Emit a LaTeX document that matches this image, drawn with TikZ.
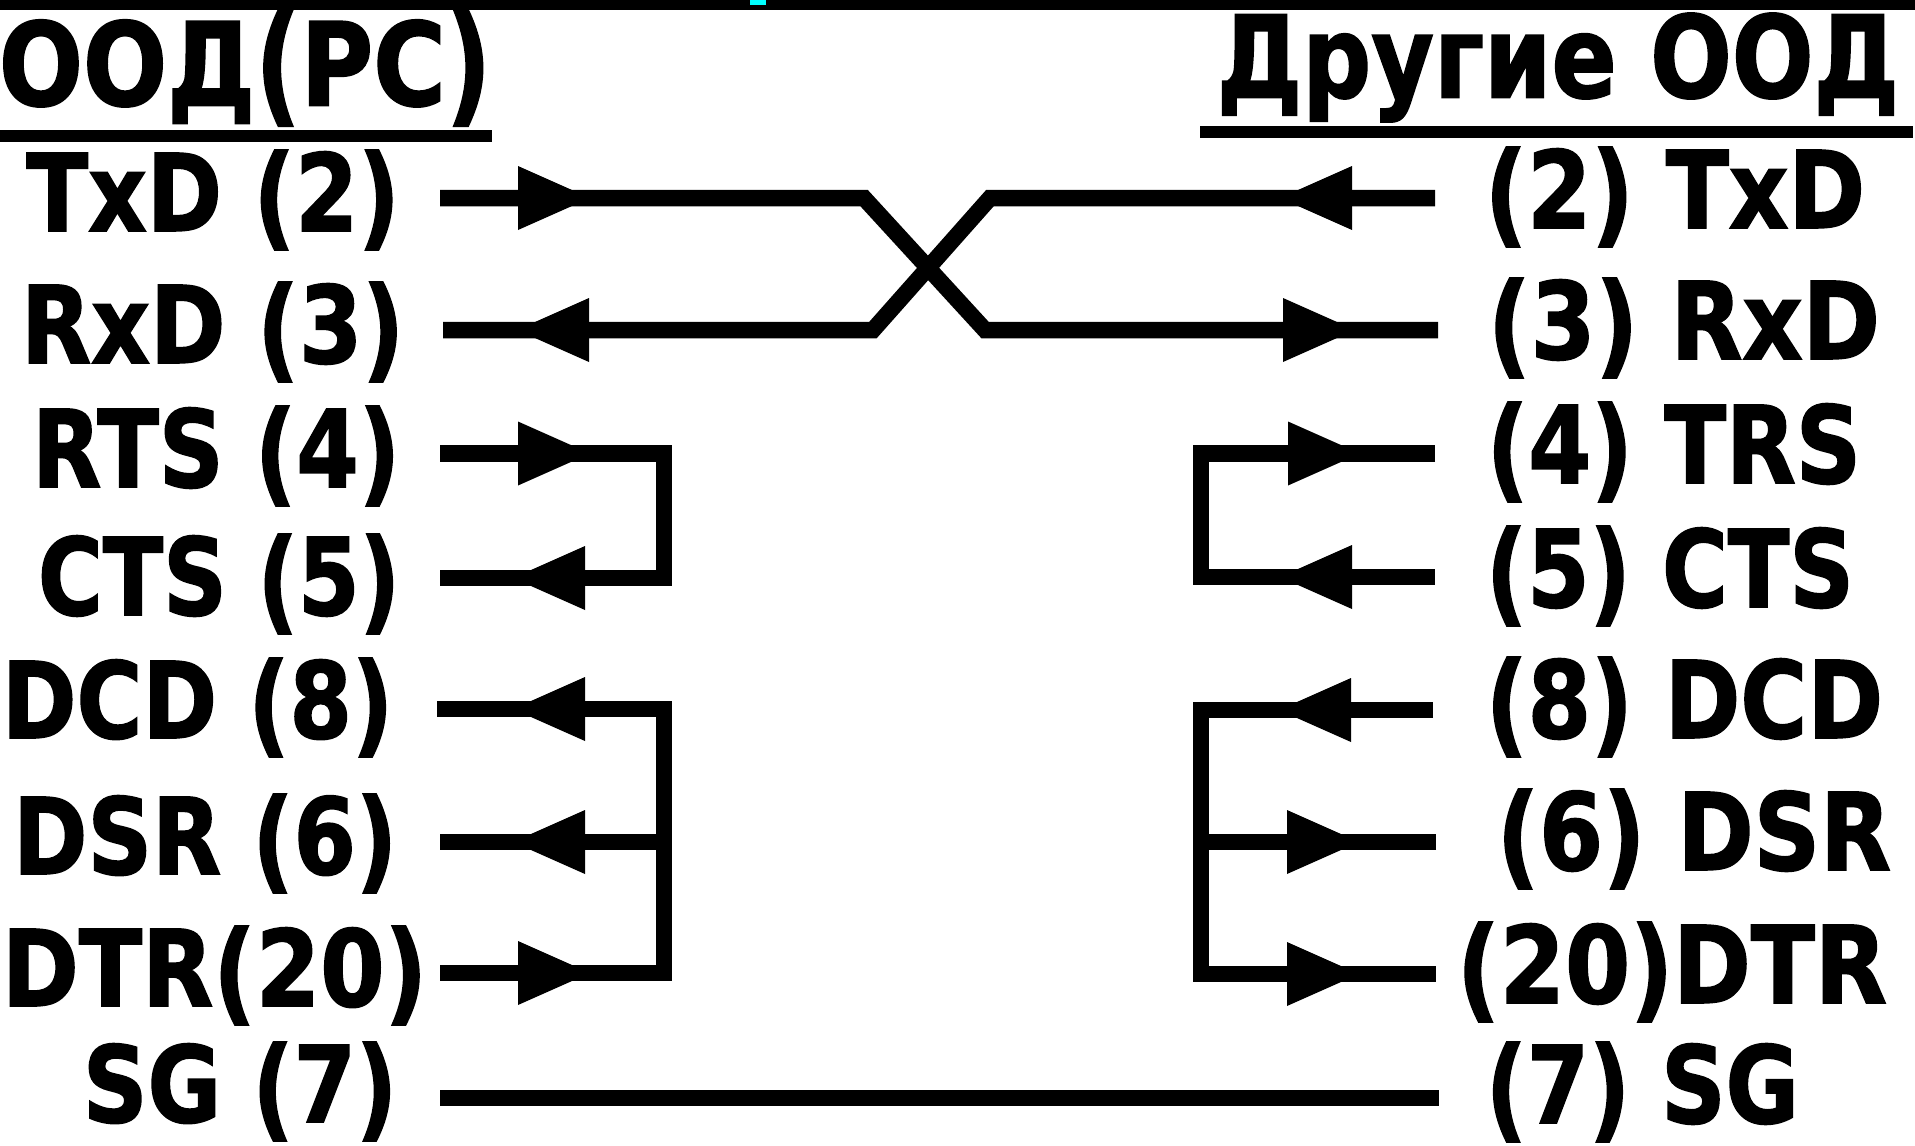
\documentclass[tikz,border=0pt]{standalone}
\usepackage{fontspec}
\setmainfont{DejaVu Sans}[BoldFeatures={FakeBold=1.6}]
\usepackage{graphicx}
\definecolor{barcyan}{RGB}{0,255,255}
\tikzset{
  x=1pt,y=-1pt,
  lbl/.style={inner sep=0pt,outer sep=0pt,anchor=center,text=black,font=\bfseries},
  wire/.style={draw=black,line width=16.5pt,line join=miter},
  rule/.style={draw=black,line width=12pt},
  headR/.pic={\fill[black] (-64,-32) -- (8,0) -- (-64,32) -- cycle;},
  headL/.pic={\fill[black] (64,-32) -- (-8,0) -- (64,32) -- cycle;}
}
\newcommand\lp{\raisebox{-.04em}{\scalebox{1}[1.05]{(}}}
\newcommand\rp{\raisebox{-.04em}{\scalebox{1}[1.05]{)}}}
\newcommand\lph{\raisebox{-.03em}{\scalebox{1}[1.13]{(}}}
\newcommand\rph{\raisebox{-.03em}{\scalebox{1}[1.13]{)}}}
\newcommand\lab[6]{\node[lbl] (#1) at (#2,#3) {\resizebox*{\dimexpr#4pt+10pt\relax}{#5pt}{#6}};}
\begin{document}
\begin{tikzpicture}
\useasboundingbox (0,0) rectangle (1915,1146);
\fill[white] (0,0) rectangle (1915,1146);
\fill[black] (0,0) rectangle (1915,9.5);
\fill[barcyan] (750,0) rectangle (765.5,5);
% headers
\lab{hl}{245}{68}{482}{116}{ООД\lph РС\rph}
\lab{hr}{1558}{67.5}{672}{109}{Другие ООД}
\coordinate (hl1) at (0,136); \coordinate (hl2) at (492,136);
\coordinate (hr1) at (1200,131.5); \coordinate (hr2) at (1913,131.5);
\draw[rule] (hl1) -- (hl2);
\draw[rule] (hr1) -- (hr2);
% left labels
\lab{l2}{213}{200}{363}{100}{TxD \lp2\rp}
\lab{l3}{212.5}{332}{373}{100}{RxD \lp3\rp}
\lab{l4}{216}{456}{358}{100}{RTS \lp4\rp}
\lab{l5}{219}{584}{352}{100}{CTS \lp5\rp}
\lab{l8}{197.5}{707.5}{381}{99}{DCD \lp8\rp}
\lab{l6}{205}{843.5}{374}{99}{DSR \lp6\rp}
\lab{l20}{214.5}{975.5}{415}{99}{DTR\lp20\rp}
\lab{l7}{240}{1091.5}{304}{99}{SG \lp7\rp}
% right labels
\lab{r2}{1675}{197}{370}{100}{\lp2\rp{} TxD}
\lab{r3}{1684}{328}{382}{100}{\lp3\rp{} RxD}
\lab{r4}{1674}{452}{364}{100}{\lp4\rp{} TRS}
\lab{r5}{1670}{576}{358}{100}{\lp5\rp{} CTS}
\lab{r8}{1684.5}{707}{387}{100}{\lp8\rp{} DCD}
\lab{r6}{1694}{839}{384}{100}{\lp6\rp{} DSR}
\lab{r20}{1672}{972}{420}{100}{\lp20\rp DTR}
\lab{r7}{1642.5}{1092}{303}{100}{\lp7\rp{} SG}
% pin coordinates
\coordinate (a2) at (440,198); \coordinate (a3) at (443,330);
\coordinate (a4) at (440,453.5); \coordinate (a5) at (440,578);
\coordinate (a8) at (437,709); \coordinate (a6) at (440,842);
\coordinate (a20) at (440,973); \coordinate (a7) at (440,1098);
\coordinate (b2) at (1435,198); \coordinate (b3) at (1438,330);
\coordinate (b4) at (1435,453.5); \coordinate (b5) at (1435,577);
\coordinate (b8) at (1433,710); \coordinate (b6) at (1436,842);
\coordinate (b20) at (1436,974); \coordinate (b7) at (1439,1098);
% crossing
\draw[wire] (a2) -- (864,198) -- (985,330) -- (b3);
\draw[wire] (a3) -- (873,330) -- (990,198) -- (b2);
% left brackets
\draw[wire] (a4) -- (664,453.5) -- (664,578) -- (a5);
\draw[wire] (a8) -- (664,709) -- (664,973) -- (a20);
\draw[wire] (a6) -- (664,842);
% right brackets
\draw[wire] (b4) -- (1201,453.5) -- (1201,577) -- (b5);
\draw[wire] (b8) -- (1201,710) -- (1201,974) -- (b20);
\draw[wire] (b6) -- (1201,842);
% ground
\draw[wire] (a7) -- (b7);
% arrowheads
\path (582,198) pic {headR};
\path (525,330) pic {headL};
\path (582,453.5) pic {headR};
\path (521,578) pic {headL};
\path (521,709) pic {headL};
\path (521,842) pic {headL};
\path (582,973) pic {headR};
\path (1288,198) pic {headL};
\path (1347,330) pic {headR};
\path (1352,453.5) pic {headR};
\path (1288,577) pic {headL};
\path (1287,710) pic {headL};
\path (1351,842) pic {headR};
\path (1351,974) pic {headR};
\end{tikzpicture}
\end{document}
